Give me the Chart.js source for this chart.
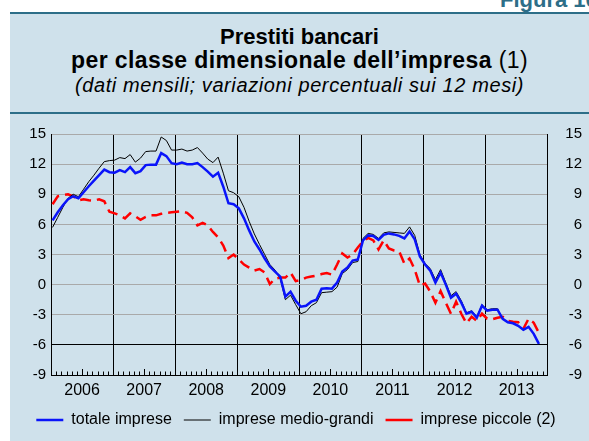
<!DOCTYPE html>
<html>
<head>
<meta charset="utf-8">
<script src="https://cdn.jsdelivr.net/npm/chart.js@4.4.1/dist/chart.umd.min.js"></script>
<style>
  body { margin: 0; width: 589px; height: 441px; overflow: hidden; background: #fff;
         font-family: "Liberation Sans", Arial, sans-serif; position: relative; }
  #fig { position: absolute; left: 500px; top: -11px; font-size: 22px; line-height: 22px; font-weight: bold;
         color: #2d6e88; white-space: nowrap; }
  #panel { position: absolute; left: 10px; top: 12px; width: 579px; height: 429px; background: #cfe1eb;
           border-top: 2px solid #2d6e88; box-sizing: border-box; }
  #rule { position: absolute; left: 10px; top: 112px; width: 579px; height: 2px; background: #2d6e88; }
  .t { position: absolute; left: 10px; width: 579px; text-align: center; white-space: nowrap; color: #000; }
  #t1 { top: 26px; font-size: 22px; line-height: 22px; font-weight: bold; }
  #t2 { top: 49px; font-size: 23px; line-height: 23px; font-weight: bold; letter-spacing: 0.4px; }
  #t2 span { font-weight: normal; }
  #t3 { top: 75px; font-size: 20px; line-height: 20px; font-style: italic; letter-spacing: 0.6px; }
  #wrap { position: absolute; left: 10px; top: 115px; width: 572px; height: 326px; }
</style>
</head>
<body>
<div id="fig">Figura 10</div>
<div id="panel"></div>
<div id="rule"></div>
<div class="t" id="t1">Prestiti bancari</div>
<div class="t" id="t2">per classe dimensionale dell’impresa <span>(1)</span></div>
<div class="t" id="t3">(dati mensili; variazioni percentuali sui 12 mesi)</div>
<div id="wrap"><canvas id="chart" width="572" height="326"></canvas></div>

<script>
// dati mensili gen 2006 - nov 2013
const years = ['2006', '2007', '2008', '2009', '2010', '2011', '2012', '2013'];
const yTicks = [15, 12, 9, 6, 3, 0, -3, -6, -9];

const totale = [
  6.4, 7.2, 7.9, 8.5, 8.8, 8.6, 9.2, 9.8, 10.35, 10.9, 11.45, 11.2,
  11.15, 11.4, 11.2, 11.7, 11.1, 11.3, 11.9, 11.95, 11.95, 13.1, 12.8, 12.1,
  12.0, 12.15, 12.0, 12.0, 12.1, 11.7, 11.25, 10.75, 11.15, 9.75, 8.1, 8.0,
  7.6, 6.6, 5.4, 4.3, 3.5, 2.6, 1.8, 1.3, 0.8, -1.2, -0.7, -1.6,
  -2.2, -2.1, -1.7, -1.5, -0.4, -0.35, -0.4, 0.2, 1.3, 1.7, 2.4, 2.5,
  4.4, 4.9, 4.85, 4.45, 4.95, 5.1, 5.0, 4.85, 4.6, 5.3, 4.5, 2.8,
  2.0, 1.4, 0.2, 1.2, 0.0, -1.3, -0.9, -1.8, -2.9, -2.7, -3.3, -2.1,
  -2.6, -2.5, -2.5, -3.4, -3.75, -3.85, -4.1, -4.5, -4.2, -4.9, -5.9
];
const medioGrandi = [
  5.7, 6.7, 7.7, 8.6, 9.0, 8.75, 9.5, 10.25, 10.9, 11.6, 12.25, 12.35,
  12.4, 12.65, 12.55, 12.95, 12.2, 12.6, 13.25, 13.3, 13.3, 14.7, 14.35, 13.4,
  13.4, 13.5, 13.3, 13.4, 13.65, 13.1, 12.5, 12.15, 12.7, 11.1, 9.35, 9.15,
  8.75, 7.7, 6.3, 5.05, 4.0, 3.0, 2.0, 1.45, 0.6, -1.5, -1.05, -2.0,
  -2.9, -2.7, -2.1, -1.8, -0.8, -0.75, -0.7, -0.25, 1.1, 1.5, 2.2, 2.3,
  4.6, 5.1, 5.0, 4.6, 5.15, 5.25, 5.2, 5.15, 5.1, 5.75, 4.9, 3.0,
  2.1, 1.6, 0.5, 1.5, 0.2, -1.1, -0.7, -1.6, -2.8, -2.6, -3.2, -2.0,
  -2.5, -2.4, -2.4, -3.4, -3.75, -3.85, -4.1, -4.55, -4.2, -4.9, -5.9
];
const piccole = [
  8.0, 8.8, 8.9, 9.0, 8.8, 8.4, 8.5, 8.4, 8.35, 8.5, 8.3, 7.25,
  7.1, 6.9, 6.6, 7.1, 6.8, 6.45, 6.75, 6.9, 6.9, 7.05, 7.15, 7.2,
  7.25, 7.3, 7.15, 6.7, 5.9, 6.15, 5.9, 5.25, 4.7, 3.9, 2.65, 3.0,
  2.5, 2.0, 1.7, 1.4, 1.55, 1.2, 0.05, 0.6, 0.7, 0.7, 1.2, 0.35,
  0.45, 0.7, 0.8, 0.9, 1.05, 1.15, 1.0, 2.0, 3.1, 2.7, 3.0, 3.7,
  4.3, 4.65, 4.4, 3.5, 4.4, 3.6, 3.4, 3.3, 2.1, 2.6, 1.5, -0.1,
  0.1, -0.7, -1.8, -0.65, -1.8, -2.9, -1.7, -2.9, -3.85, -3.2, -3.6, -2.9,
  -3.4, -3.45, -3.3, -3.2, -3.6, -3.7, -3.75, -4.4, -3.4, -3.8, -4.8
];

const toPoints = arr => arr.map((v, i) => ({ x: i + 0.3, y: v }));

// tacche mensili sull'asse x, dentro l'area del grafico
const monthTicks = {
  id: 'monthTicks',
  afterDatasetsDraw(chart) {
    const { ctx, chartArea, scales: { x } } = chart;
    ctx.save();
    ctx.strokeStyle = '#000';
    ctx.lineWidth = 1;
    ctx.beginPath();
    for (let m = 1; m < years.length * 12; m++) {
      if (m % 12 === 0) continue;
      const px = Math.round(x.getPixelForValue(m)) + 0.5;
      const len = m % 12 === 6 ? 6 : 3.5;
      ctx.moveTo(px, chartArea.bottom);
      ctx.lineTo(px, chartArea.bottom - len);
    }
    ctx.stroke();
    ctx.restore();
  }
};

Chart.defaults.font.family = '"Liberation Sans", Arial, sans-serif';
Chart.defaults.color = '#000';

new Chart(document.getElementById('chart').getContext('2d'), {
  type: 'line',
  data: {
    datasets: [
      {
        label: 'totale imprese',
        data: toPoints(totale),
        borderColor: 'rgb(10,20,250)',
        borderWidth: 2.5,
        pointRadius: 0,
        pointStyle: 'line'
      },
      {
        label: 'imprese medio-grandi',
        data: toPoints(medioGrandi),
        borderColor: '#000',
        borderWidth: 1,
        pointRadius: 0,
        pointStyle: 'line'
      },
      {
        label: 'imprese piccole (2)',
        data: toPoints(piccole),
        borderColor: 'rgb(255,0,0)',
        borderWidth: 2.5,
        borderDash: [11, 6],
        pointRadius: 0,
        pointStyle: 'line'
      }
    ]
  },
  options: {
    responsive: false,
    animation: false,
    layout: { padding: { top: 19, bottom: 3, left: 0, right: 0 } },
    plugins: {
      title: { display: false },
      tooltip: { enabled: false },
      legend: {
        position: 'bottom',
        labels: {
          usePointStyle: true,
          pointStyleWidth: 27,
          padding: 12,
          font: { size: 16 }
        }
      }
    },
    scales: {
      x: {
        type: 'linear',
        min: 0,
        max: years.length * 12,
        afterBuildTicks: scale => {
          scale.ticks = [];
          for (let m = 0; m <= years.length * 12; m++) scale.ticks.push({ value: m });
        },
        afterFit: scale => { scale.height = 25; },
        grid: {
          color: c => (c.tick && c.tick.value % 12 === 0) ? '#000' : 'rgba(0,0,0,0)',
          drawTicks: false
        },
        border: { color: '#000' },
        ticks: {
          autoSkip: false,
          maxRotation: 0,
          padding: 6,
          font: { size: 16 },
          callback: v => (v % 12 === 6) ? years[(v - 6) / 12] : ''
        }
      },
      y: {
        position: 'left',
        min: -9,
        max: 15,
        afterBuildTicks: scale => { scale.ticks = yTicks.map(v => ({ value: v })); },
        afterFit: scale => { scale.width = 41; },
        grid: {
          color: c => (c.tick && c.tick.value === -6) ? '#000' : '#a9a9a9',
          drawTicks: false
        },
        border: { color: '#000' },
        ticks: { padding: 5, font: { size: 15 } }
      },
      y2: {
        position: 'right',
        min: -9,
        max: 15,
        afterBuildTicks: scale => { scale.ticks = yTicks.map(v => ({ value: v })); },
        afterFit: scale => { scale.width = 34.3; },
        grid: { drawOnChartArea: false, drawTicks: false },
        border: { color: '#000' },
        ticks: { crossAlign: 'far', font: { size: 15 } }
      }
    }
  },
  plugins: [monthTicks]
});
</script>
</body>
</html>
